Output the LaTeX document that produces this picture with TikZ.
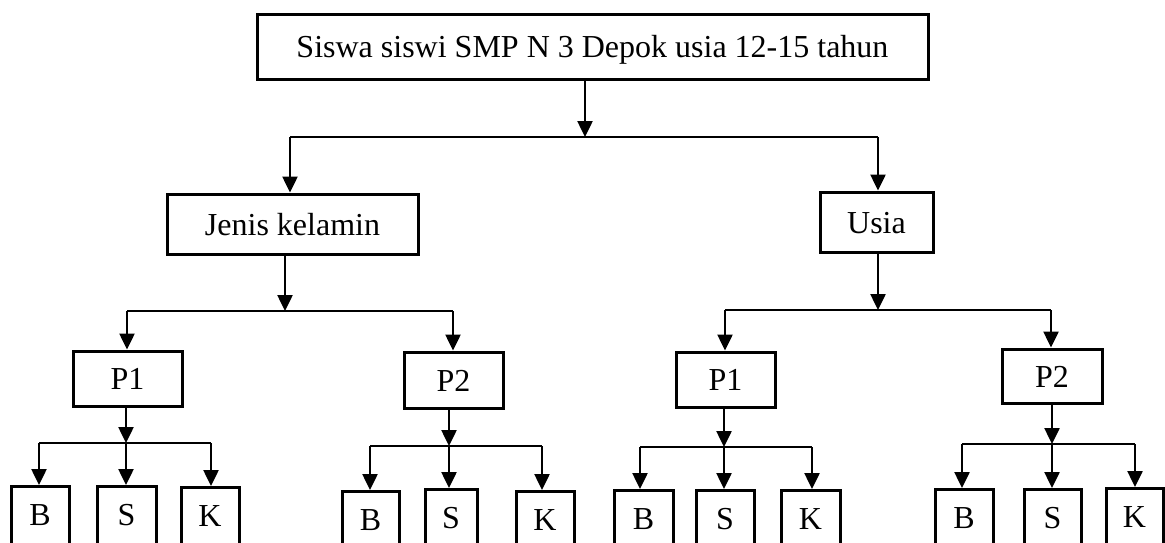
\documentclass[tikz,border=0pt]{standalone}
\usepackage{fontspec}
\setmainfont{Liberation Serif}
\usetikzlibrary{arrows.meta}
\tikzset{
  box/.style={draw, line width=3pt, inner sep=0pt, font=\fontsize{32}{38}\selectfont, text height=22pt, text depth=0pt},
  leaf/.style={draw, line width=3pt, inner sep=0pt, anchor=north, font=\fontsize{32}{38}\selectfont, text height=39pt, text depth=40pt},
  arr/.style={line width=2.5pt, -{Triangle[length=16pt,width=15pt]}},
  bus/.style={line width=1.5pt}
}
\begin{document}
\begin{tikzpicture}[x=1pt,y=-1pt]
\useasboundingbox (0,0) rectangle (1165,542);
\fill[white] (0,0) rectangle (1165,542);
\clip (0,0) rectangle (1165,542);

% top level
\node[box, minimum width=671pt, minimum height=65pt] (top) at (592.5,46.5) {Siswa siswi SMP N 3 Depok usia 12-15 tahun};
\node[box, minimum width=251pt, minimum height=60pt] (jk) at (292.5,224) {Jenis kelamin};
\node[box, minimum width=113pt, minimum height=60pt] (us) at (876.5,222) {Usia};

\coordinate (t0) at (585,137);
\coordinate (t1) at (290,137);
\coordinate (t2) at (878,137);
\draw[arr] (top.south -| t0) -- (t0);
\draw[bus] (t1) -- (t2);
\draw[arr] (t1) -- (t1 |- jk.north);
\draw[arr] (t2) -- (t2 |- us.north);

% second level
\node[box, minimum width=109pt, minimum height=55pt] (pa) at (127.5,378.5) {P1};
\node[box, minimum width=99pt, minimum height=56pt] (pb) at (453.5,380) {P2};
\node[box, minimum width=99pt, minimum height=55pt] (pc) at (725.5,379.5) {P1};
\node[box, minimum width=100pt, minimum height=54pt] (pd) at (1052,376) {P2};

\coordinate (j0) at (285,311);
\coordinate (j1) at (127,311);
\coordinate (j2) at (453,311);
\draw[arr] (jk.south -| j0) -- (j0);
\draw[bus] (j1) -- (j2);
\draw[arr] (j1) -- (j1 |- pa.north);
\draw[arr] (j2) -- (j2 |- pb.north);

\coordinate (u0) at (878,310);
\coordinate (u1) at (725,310);
\coordinate (u2) at (1051,310);
\draw[arr] (us.south -| u0) -- (u0);
\draw[bus] (u1) -- (u2);
\draw[arr] (u1) -- (u1 |- pc.north);
\draw[arr] (u2) -- (u2 |- pd.north);

% leaves group a
\node[leaf, minimum width=58pt] (aB) at (40,485) {B};
\node[leaf, minimum width=59pt] (aS) at (126.5,485) {S};
\node[leaf, minimum width=58pt] (aK) at (210,486) {K};
\coordinate (a0) at (126,443);
\coordinate (a1) at (39,443);
\coordinate (a2) at (211,443);
\draw[arr] (pa.south -| a0) -- (a0);
\draw[bus] (a1) -- (a2);
\draw[arr] (a1) -- (a1 |- aB.north);
\draw[arr] (a0) -- (a0 |- aS.north);
\draw[arr] (a2) -- (a2 |- aK.north);

% leaves group b
\node[leaf, minimum width=57pt] (bB) at (370.5,490) {B};
\node[leaf, minimum width=52pt] (bS) at (451,488) {S};
\node[leaf, minimum width=58pt] (bK) at (545,490) {K};
\coordinate (b0) at (449,446);
\coordinate (b1) at (370,446);
\coordinate (b2) at (542,446);
\draw[arr] (pb.south -| b0) -- (b0);
\draw[bus] (b1) -- (b2);
\draw[arr] (b1) -- (b1 |- bB.north);
\draw[arr] (b0) -- (b0 |- bS.north);
\draw[arr] (b2) -- (b2 |- bK.north);

% leaves group c
\node[leaf, minimum width=59pt] (cB) at (643.5,489) {B};
\node[leaf, minimum width=58pt] (cS) at (725,489) {S};
\node[leaf, minimum width=59pt] (cK) at (810.5,489) {K};
\coordinate (c0) at (724,447);
\coordinate (c1) at (640,447);
\coordinate (c2) at (812,447);
\draw[arr] (pc.south -| c0) -- (c0);
\draw[bus] (c1) -- (c2);
\draw[arr] (c1) -- (c1 |- cB.north);
\draw[arr] (c0) -- (c0 |- cS.north);
\draw[arr] (c2) -- (c2 |- cK.north);

% leaves group d
\node[leaf, minimum width=58pt] (dB) at (964,488) {B};
\node[leaf, minimum width=57pt] (dS) at (1052.5,488) {S};
\node[leaf, minimum width=57pt] (dK) at (1134.5,487) {K};
\coordinate (d0) at (1052,444);
\coordinate (d1) at (962,444);
\coordinate (d2) at (1135,444);
\draw[arr] (pd.south -| d0) -- (d0);
\draw[bus] (d1) -- (d2);
\draw[arr] (d1) -- (d1 |- dB.north);
\draw[arr] (d0) -- (d0 |- dS.north);
\draw[arr] (d2) -- (d2 |- dK.north);
\end{tikzpicture}
\end{document}
